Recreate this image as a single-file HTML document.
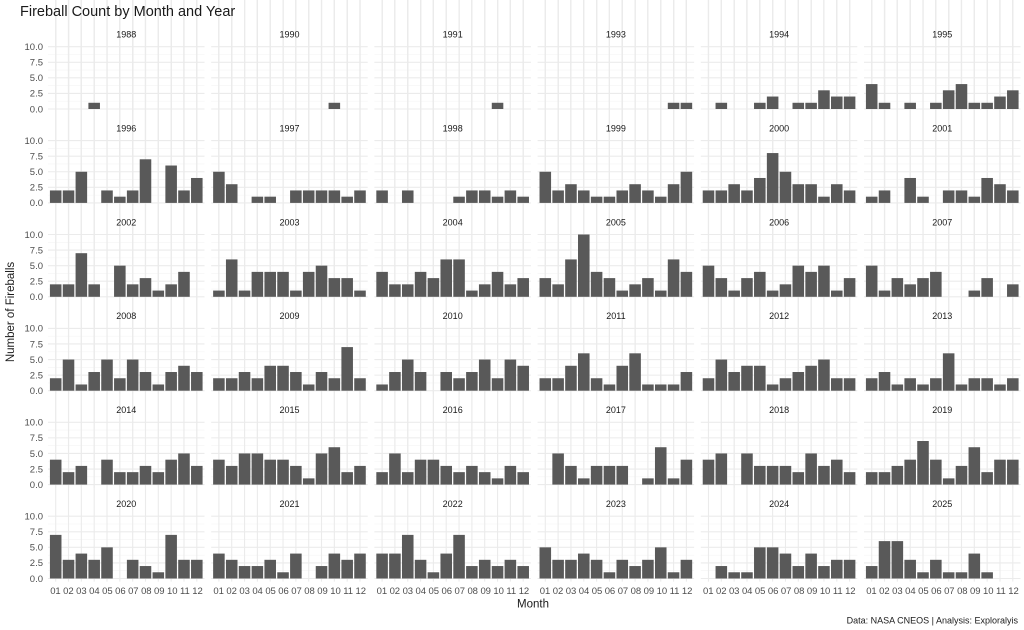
<!DOCTYPE html>
<html><head><meta charset="utf-8"><style>
html,body{margin:0;padding:0;background:#fff;}
svg{display:block;font-family:"Liberation Sans",sans-serif;}
</style></head><body>
<svg id="c" width="1024" height="630" viewBox="0 0 1024 630" xmlns="http://www.w3.org/2000/svg">
<g id="grid"></g><g id="bars"></g>
<text x="20" y="16" font-size="14.5" fill="#1a1a1a">Fireball Count by Month and Year</text>
<g font-size="9" fill="#1a1a1a" text-anchor="middle">
<text x="126.3" y="37.5">1988</text><text x="289.5" y="37.5">1990</text><text x="452.7" y="37.5">1991</text><text x="615.9" y="37.5">1993</text><text x="779.1" y="37.5">1994</text><text x="942.3" y="37.5">1995</text>
<text x="126.3" y="131.4">1996</text><text x="289.5" y="131.4">1997</text><text x="452.7" y="131.4">1998</text><text x="615.9" y="131.4">1999</text><text x="779.1" y="131.4">2000</text><text x="942.3" y="131.4">2001</text>
<text x="126.3" y="225.3">2002</text><text x="289.5" y="225.3">2003</text><text x="452.7" y="225.3">2004</text><text x="615.9" y="225.3">2005</text><text x="779.1" y="225.3">2006</text><text x="942.3" y="225.3">2007</text>
<text x="126.3" y="319.2">2008</text><text x="289.5" y="319.2">2009</text><text x="452.7" y="319.2">2010</text><text x="615.9" y="319.2">2011</text><text x="779.1" y="319.2">2012</text><text x="942.3" y="319.2">2013</text>
<text x="126.3" y="413.1">2014</text><text x="289.5" y="413.1">2015</text><text x="452.7" y="413.1">2016</text><text x="615.9" y="413.1">2017</text><text x="779.1" y="413.1">2018</text><text x="942.3" y="413.1">2019</text>
<text x="126.3" y="507">2020</text><text x="289.5" y="507">2021</text><text x="452.7" y="507">2022</text><text x="615.9" y="507">2023</text><text x="779.1" y="507">2024</text><text x="942.3" y="507">2025</text>
</g>
<g font-size="9.5" fill="#4d4d4d" text-anchor="end">
<text x="43" y="50">10.0</text><text x="43" y="65.6">7.5</text><text x="43" y="81.2">5.0</text><text x="43" y="96.7">2.5</text><text x="43" y="112.3">0.0</text>
<text x="43" y="143.9">10.0</text><text x="43" y="159.5">7.5</text><text x="43" y="175.1">5.0</text><text x="43" y="190.6">2.5</text><text x="43" y="206.2">0.0</text>
<text x="43" y="237.8">10.0</text><text x="43" y="253.4">7.5</text><text x="43" y="269">5.0</text><text x="43" y="284.5">2.5</text><text x="43" y="300.1">0.0</text>
<text x="43" y="331.7">10.0</text><text x="43" y="347.3">7.5</text><text x="43" y="362.9">5.0</text><text x="43" y="378.4">2.5</text><text x="43" y="394">0.0</text>
<text x="43" y="425.6">10.0</text><text x="43" y="441.2">7.5</text><text x="43" y="456.8">5.0</text><text x="43" y="472.3">2.5</text><text x="43" y="487.9">0.0</text>
<text x="43" y="519.5">10.0</text><text x="43" y="535.1">7.5</text><text x="43" y="550.7">5.0</text><text x="43" y="566.2">2.5</text><text x="43" y="581.8">0.0</text>
</g>
<g font-size="9.5" fill="#4d4d4d">
<text x="50.2" y="594" textLength="152.6" lengthAdjust="spacing">01 02 03 04 05 06 07 08 09 10 11 12</text>
<text x="213.4" y="594" textLength="152.6" lengthAdjust="spacing">01 02 03 04 05 06 07 08 09 10 11 12</text>
<text x="376.6" y="594" textLength="152.6" lengthAdjust="spacing">01 02 03 04 05 06 07 08 09 10 11 12</text>
<text x="539.8" y="594" textLength="152.6" lengthAdjust="spacing">01 02 03 04 05 06 07 08 09 10 11 12</text>
<text x="703" y="594" textLength="152.6" lengthAdjust="spacing">01 02 03 04 05 06 07 08 09 10 11 12</text>
<text x="866.2" y="594" textLength="152.6" lengthAdjust="spacing">01 02 03 04 05 06 07 08 09 10 11 12</text>
</g>
<text x="533" y="607.5" font-size="11.5" fill="#1a1a1a" text-anchor="middle">Month</text>
<text x="0" y="0" font-size="11.5" fill="#1a1a1a" text-anchor="middle" transform="translate(14,312) rotate(-90)">Number of Fireballs</text>
<text x="1018" y="623.5" font-size="9" fill="#1a1a1a" text-anchor="end">Data: NASA CNEOS | Analysis: Exploralyis</text>
</svg>
<script>
var D=[
[0,0,0,1,0,0,0,0,0,0,0,0],[0,0,0,0,0,0,0,0,0,1,0,0],[0,0,0,0,0,0,0,0,0,1,0,0],[0,0,0,0,0,0,0,0,0,0,1,1],[0,1,0,0,1,2,0,1,1,3,2,2],[4,1,0,1,0,1,3,4,1,1,2,3],
[2,2,5,0,2,1,2,7,0,6,2,4],[5,3,0,1,1,0,2,2,2,2,1,2],[2,0,2,0,0,0,1,2,2,1,2,1],[5,2,3,2,1,1,2,3,2,1,3,5],[2,2,3,2,4,8,5,3,3,1,3,2],[1,2,0,4,1,0,2,2,1,4,3,2],
[2,2,7,2,0,5,2,3,1,2,4,0],[1,6,1,4,4,4,1,4,5,3,3,1],[4,2,2,4,3,6,6,1,2,4,2,3],[3,2,6,10,4,3,1,2,3,1,6,4],[5,3,1,3,4,1,2,5,4,5,1,3],[5,1,3,2,3,4,0,0,1,3,0,2],
[2,5,1,3,5,2,5,3,1,3,4,3],[2,2,3,2,4,4,3,1,3,2,7,2],[1,3,5,3,0,3,2,3,5,2,5,4],[2,2,4,6,2,1,4,6,1,1,1,3],[2,5,3,4,4,1,2,3,4,5,2,2],[2,3,1,2,1,2,6,1,2,2,1,2],
[4,2,3,0,4,2,2,3,2,4,5,3],[4,3,5,5,4,4,3,1,5,6,2,3],[2,5,2,4,4,3,2,3,2,1,3,2],[0,5,3,1,3,3,3,0,1,6,1,4],[4,5,0,5,3,3,3,2,5,3,4,2],[2,2,3,4,7,4,1,3,6,2,4,4],
[7,3,4,3,5,0,3,2,1,7,3,3],[4,3,2,2,3,1,4,0,2,4,3,4],[4,4,7,3,1,4,7,2,3,2,3,2],[5,3,3,4,3,1,3,2,3,5,1,3],[0,2,1,1,5,5,4,2,4,2,3,3],[2,6,6,3,1,3,1,1,4,1,0,0]];
var NS="http://www.w3.org/2000/svg",g=document.getElementById('grid'),b=document.getElementById('bars');
function el(p,t,a){var e=document.createElementNS(NS,t);for(var k in a)e.setAttribute(k,a[k]);p.appendChild(e);}
var W=156.5,U=W/12.2,PY=6.23;
for(var r=0;r<6;r++)for(var c=0;c<6;c++){
 var x0=48+c*163.2,y10=46.7+r*93.9,y0=y10+62.3,top=y10-3.1,bot=y0+3.1;
 for(var v=1.25;v<10;v+=2.5)el(g,'line',{x1:x0,x2:x0+W,y1:y0-v*PY,y2:y0-v*PY,stroke:'#f4f4f4','stroke-width':0.6});
 for(var v=0;v<=10;v+=2.5)el(g,'line',{x1:x0,x2:x0+W,y1:y0-v*PY,y2:y0-v*PY,stroke:'#ebebeb','stroke-width':1.1});
 for(var m=1;m<=12;m++){var cx=x0+(m-0.4)*U;el(g,'line',{x1:cx,x2:cx,y1:top,y2:bot,stroke:'#ebebeb','stroke-width':1.1});}
 var d=D[r*6+c];
 for(var m=1;m<=12;m++){var v=d[m-1];if(!v)continue;var cx=x0+(m-0.4)*U;
  el(b,'rect',{x:cx-0.45*U,y:y0-v*PY,width:0.9*U,height:v*PY,fill:'#595959'});}
}
</script>
</body></html>
